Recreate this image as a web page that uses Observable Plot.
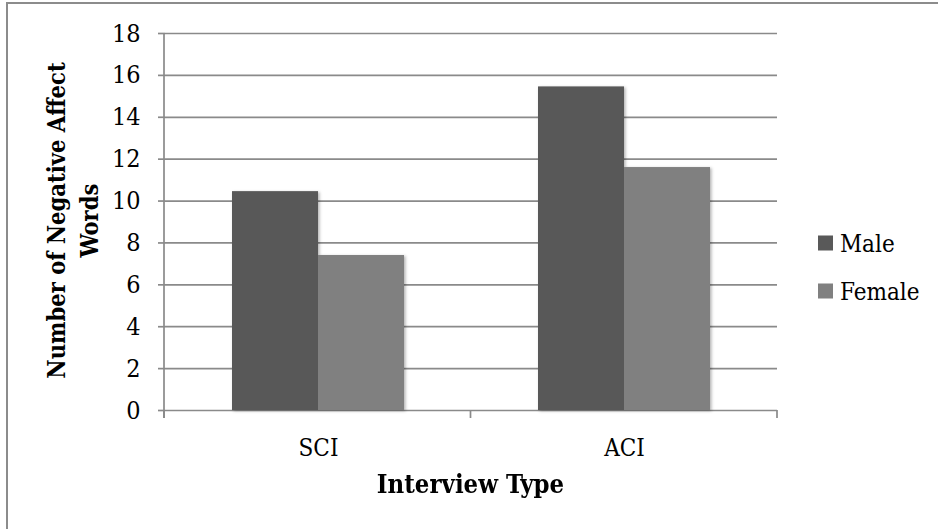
<!DOCTYPE html>
<html>
<head>
<meta charset="utf-8">
<script src="https://cdn.jsdelivr.net/npm/d3@7"></script>
<script src="https://cdn.jsdelivr.net/npm/@observablehq/plot@0.6"></script>
<style>
  body { margin: 0; background: #fff; }
  #wrap { position: relative; width: 938px; height: 529px; overflow: hidden; background: #fff; }
  #border { position: absolute; left: 6px; top: 2px; width: 1200px; height: 1200px;
            border-top: 2px solid #8c8c8c; border-left: 2px solid #8c8c8c; box-sizing: border-box; }
  #chart { position: absolute; left: 0; top: 0; }
</style>
</head>
<body>
<div id="wrap"><div id="border"></div><div id="chart"></div></div>
<script>
const categories = ["SCI", "ACI"];
const series = ["Male", "Female"];
const maleValues = [10.45, 15.45];
const femaleValues = [7.4, 11.6];
const yTicks = [0, 2, 4, 6, 8, 10, 12, 14, 16, 18];
const seriesColors = ["#595959", "#808080"];
const xTitle = "Interview Type";
const yTitleLines = ["Number of Negative Affect", "Words"];

const FONT = '"DejaVu Serif Condensed", "DejaVu Serif", serif';
const GRID = "#8a8a8a";

const data = [];
categories.forEach((c, i) => {
  data.push({category: c, gender: series[0], value: maleValues[i]});
  data.push({category: c, gender: series[1], value: femaleValues[i]});
});

const chart = Plot.plot({
  width: 938,
  height: 529,
  marginLeft: 164,
  marginRight: 161,
  marginTop: 33,
  marginBottom: 119,
  style: {fontFamily: FONT, fontSize: "24px", color: "#000", background: "transparent"},
  fx: {domain: categories, padding: 0, label: null},
  x: {domain: series, paddingInner: 0, paddingOuter: 0.76, axis: null},
  y: {domain: [0, 18], ticks: yTicks},
  color: {domain: series, range: seriesColors},
  marks: [
    Plot.gridY(yTicks, {stroke: GRID, strokeOpacity: 1, strokeWidth: 1.7}),
    Plot.barY(data, {fx: "category", x: "gender", y: "value", fill: "gender"}),
    Plot.axisY(yTicks, {tickSize: 7, tickPadding: 18, stroke: GRID, strokeWidth: 1.7, fontSize: 25, label: null, tickFormat: d => d}),
    Plot.axisFx({anchor: "bottom", tickSize: 0, tickPadding: 28, fontSize: 24, label: null})
  ]
});
document.getElementById("chart").appendChild(chart);

const svg = d3.select(chart);

// soft shadow on bars, like the original
const defs = svg.append("defs");
const f = defs.append("filter").attr("id", "barShadow").attr("x", "-10%").attr("y", "-10%").attr("width", "130%").attr("height", "130%");
f.append("feDropShadow").attr("dx", 1.5).attr("dy", 1).attr("stdDeviation", 1.5).attr("flood-color", "#000").attr("flood-opacity", 0.3);
svg.selectAll('g[aria-label="bar"]').attr("filter", "url(#barShadow)");

// axis line and category boundary ticks from the Plot scales
const fxS = chart.scale("fx");
const yS = chart.scale("y");
const band = d3.scaleBand().domain(fxS.domain).range(fxS.range).padding(0);
const y = d3.scaleLinear().domain(yS.domain).range(yS.range);
const y0 = y(0), yTop = y(d3.max(yTicks));
const g = svg.append("g").attr("stroke", GRID).attr("stroke-width", 1.7);
g.append("line").attr("x1", fxS.range[0]).attr("x2", fxS.range[0]).attr("y1", yTop).attr("y2", y0 + 8);
const bounds = categories.map(c => band(c)).concat([fxS.range[1]]);
bounds.forEach(bx => g.append("line").attr("x1", bx).attr("x2", bx).attr("y1", y0).attr("y2", y0 + 8));

// axis titles
const cx = (fxS.range[0] + fxS.range[1]) / 2;
const cy = (y0 + yTop) / 2;
svg.append("text").attr("x", cx).attr("y", 492.5).attr("text-anchor", "middle")
  .attr("font-family", FONT).attr("font-size", 25.5).attr("font-weight", "bold").attr("fill", "#000")
  .text(xTitle);
const yt = svg.append("text").attr("text-anchor", "middle").attr("font-family", FONT)
  .attr("font-size", 23.5).attr("font-weight", "bold").attr("fill", "#000")
  .attr("transform", `translate(0,${cy - 1}) rotate(-90)`);
yTitleLines.forEach((t, i) => yt.append("tspan").attr("x", 0).attr("y", 65 + i * 33).text(t));

// legend
const col = chart.scale("color");
const lg = svg.append("g").attr("font-family", FONT).attr("font-size", 24).attr("text-anchor", "start");
col.domain.forEach((d, i) => {
  const base = 251.5 + i * 48;
  lg.append("rect").attr("x", 818).attr("y", base - 16).attr("width", 15).attr("height", 15).attr("fill", col.range[i]);
  lg.append("text").attr("x", 840).attr("y", base).attr("fill", "#000").attr("text-anchor", "start").text(d);
});
</script>
</body>
</html>
